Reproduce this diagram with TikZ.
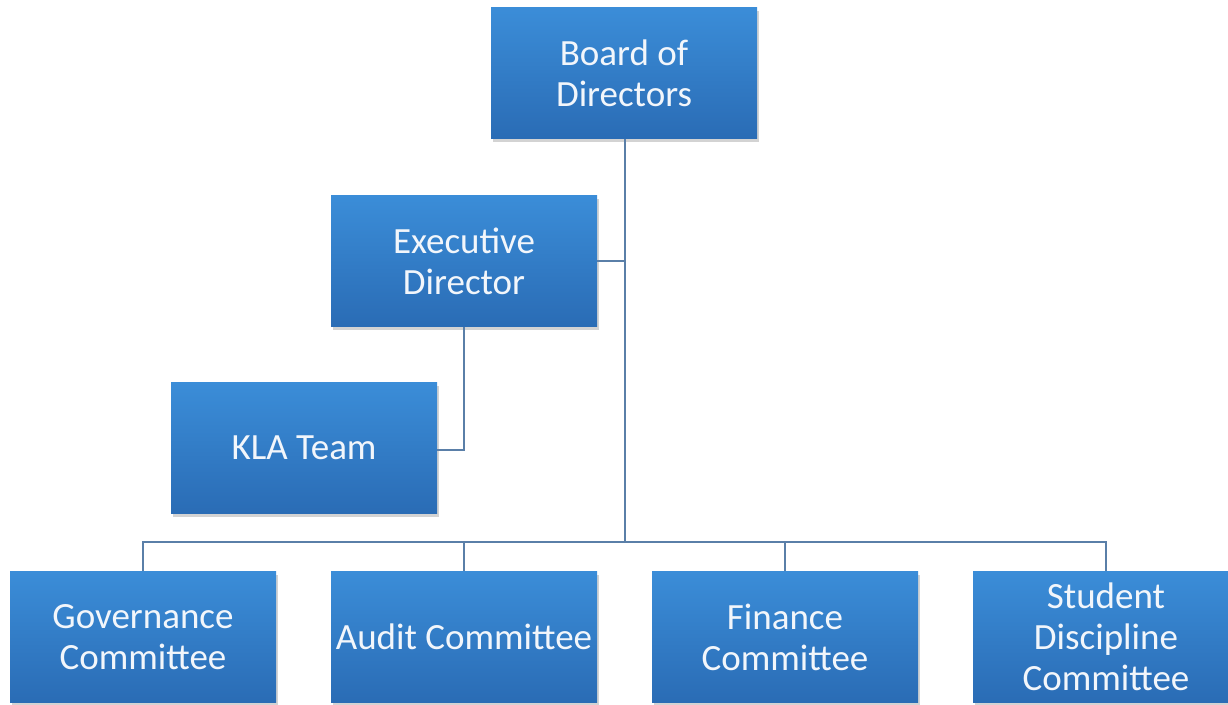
\documentclass[tikz,border=0pt]{standalone}
\usepackage{fontspec}
\setmainfont{Carlito}
\usetikzlibrary{shadows}
\definecolor{boxtop}{HTML}{3B8DD8}
\definecolor{boxbot}{HTML}{2A6CB5}
\definecolor{linec}{HTML}{5A7FA8}
\definecolor{txt}{HTML}{F2F6FB}
\tikzset{
  orgbox/.style={rectangle, minimum width=266pt, minimum height=131pt, inner sep=0pt,
    top color=boxtop, bottom color=boxbot, draw=none,
    drop shadow={opacity=0.35, shadow xshift=1.5pt, shadow yshift=-3pt},
    text=txt, font=\fontsize{37}{41}\selectfont, align=center},
  conn/.style={draw=linec, line width=1.6pt}
}
\begin{document}
\begin{tikzpicture}[x=1pt,y=-1pt]
\useasboundingbox (0,0) rectangle (1228,704);
\node[orgbox] (board) at (624,73) {Board of\\Directors};
\node[orgbox] (exec) at (464,261) {Executive\\Director};
\node[orgbox] (kla) at (304,448) {KLA Team};
\node[orgbox] (gov) at (143,637) {Governance\\Committee};
\node[orgbox] (audit) at (464,637) {Audit Committee};
\node[orgbox] (fin) at (785,637) {Finance\\Committee};
\node[orgbox] (stud) at (1106,637) {Student\\Discipline\\Committee};
\coordinate (bus) at (625,542);
\coordinate (execj) at (625,261);
\coordinate (klaj) at (464,450);
\draw[conn] (board.south -| bus) -- (bus);
\draw[conn] (exec.east) -- (execj);
\draw[conn] (exec.south) -- (klaj) -- (klaj -| kla.east);
\draw[conn] (gov.north) |- (bus) -| (stud.north);
\draw[conn] (bus -| audit.north) -- (audit.north);
\draw[conn] (bus -| fin.north) -- (fin.north);
\end{tikzpicture}
\end{document}
